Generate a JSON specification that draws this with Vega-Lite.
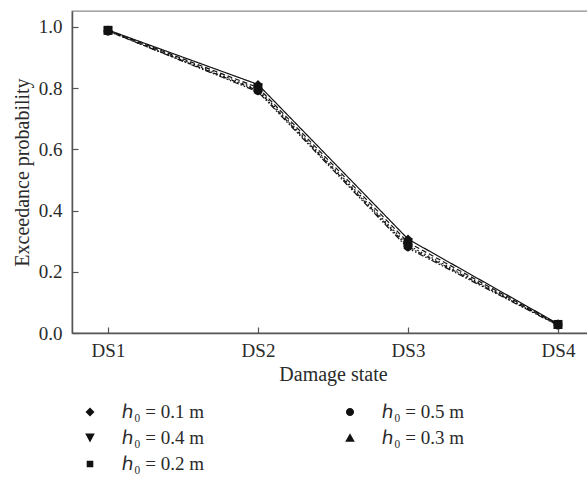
{
  "$schema": "https://vega.github.io/schema/vega-lite/v6.json",
  "autosize": "none",
  "padding": {"left": 72, "top": 11, "right": 0, "bottom": 152},
  "width": 522,
  "height": 322,
  "background": "white",
  "config": {
    "view": {"stroke": "#8a8a8a", "strokeWidth": 1.3},
    "font": "Liberation Serif",
    "axis": {
      "labelFont": "Liberation Serif",
      "titleFont": "Liberation Serif",
      "labelFontSize": 19,
      "titleFontSize": 20,
      "titleFontWeight": "normal",
      "labelColor": "#2a2a2a",
      "titleColor": "#2a2a2a",
      "domainColor": "#555555",
      "domainWidth": 1.5,
      "tickColor": "#555555",
      "tickWidth": 1.2,
      "tickSize": -6,
      "grid": false
    }
  },
  "data": {
    "values": [
      {"state": "DS1", "h0": "ℎ₀ = 0.1 m", "p": 0.99},
      {"state": "DS2", "h0": "ℎ₀ = 0.1 m", "p": 0.812},
      {"state": "DS3", "h0": "ℎ₀ = 0.1 m", "p": 0.307},
      {"state": "DS4", "h0": "ℎ₀ = 0.1 m", "p": 0.03},
      {"state": "DS1", "h0": "ℎ₀ = 0.2 m", "p": 0.989},
      {"state": "DS2", "h0": "ℎ₀ = 0.2 m", "p": 0.802},
      {"state": "DS3", "h0": "ℎ₀ = 0.2 m", "p": 0.296},
      {"state": "DS4", "h0": "ℎ₀ = 0.2 m", "p": 0.028},
      {"state": "DS1", "h0": "ℎ₀ = 0.3 m", "p": 0.988},
      {"state": "DS2", "h0": "ℎ₀ = 0.3 m", "p": 0.796},
      {"state": "DS3", "h0": "ℎ₀ = 0.3 m", "p": 0.287},
      {"state": "DS4", "h0": "ℎ₀ = 0.3 m", "p": 0.027},
      {"state": "DS1", "h0": "ℎ₀ = 0.4 m", "p": 0.987},
      {"state": "DS2", "h0": "ℎ₀ = 0.4 m", "p": 0.788},
      {"state": "DS3", "h0": "ℎ₀ = 0.4 m", "p": 0.277},
      {"state": "DS4", "h0": "ℎ₀ = 0.4 m", "p": 0.025},
      {"state": "DS1", "h0": "ℎ₀ = 0.5 m", "p": 0.986},
      {"state": "DS2", "h0": "ℎ₀ = 0.5 m", "p": 0.792},
      {"state": "DS3", "h0": "ℎ₀ = 0.5 m", "p": 0.282},
      {"state": "DS4", "h0": "ℎ₀ = 0.5 m", "p": 0.026}
    ]
  },
  "encoding": {
    "x": {
      "field": "state",
      "type": "ordinal",
      "scale": {"type": "point", "padding": 0.24, "domain": ["DS1", "DS2", "DS3", "DS4"]},
      "axis": {"title": "Damage state", "labelAngle": 0, "labelPadding": 14, "titlePadding": 4}
    },
    "y": {
      "field": "p",
      "type": "quantitative",
      "scale": {"domain": [0, 1.052], "nice": false, "zero": true},
      "axis": {
        "title": "Exceedance probability",
        "values": [0, 0.2, 0.4, 0.6, 0.8, 1.0],
        "format": ".1f",
        "labelPadding": 16,
        "titlePadding": 6
      }
    }
  },
  "layer": [
    {
      "mark": {"type": "line", "color": "#111111", "strokeWidth": 1.2},
      "encoding": {
        "strokeDash": {
          "field": "h0",
          "type": "nominal",
          "scale": {
            "domain": ["ℎ₀ = 0.1 m", "ℎ₀ = 0.2 m", "ℎ₀ = 0.3 m", "ℎ₀ = 0.4 m", "ℎ₀ = 0.5 m"],
            "range": [[1, 0], [5, 3], [1.5, 2.5], [6, 2, 1.5, 2, 1.5, 2], [4, 2, 1.5, 2]]
          },
          "legend": null
        }
      }
    },
    {
      "mark": {"type": "point", "filled": true, "color": "#111111", "size": 80, "opacity": 1},
      "encoding": {
        "shape": {
          "field": "h0",
          "type": "nominal",
          "scale": {
            "domain": ["ℎ₀ = 0.1 m", "ℎ₀ = 0.2 m", "ℎ₀ = 0.3 m", "ℎ₀ = 0.4 m", "ℎ₀ = 0.5 m"],
            "range": ["diamond", "square", "triangle-up", "triangle-down", "circle"]
          },
          "legend": null
        }
      }
    },
    {
      "mark": {"type": "point", "filled": true, "fill": "#111111", "stroke": "#111111", "opacity": 0, "size": 80},
      "encoding": {
        "shape": {
          "field": "h0",
          "type": "nominal",
          "scale": {
            "domain": ["ℎ₀ = 0.1 m", "ℎ₀ = 0.4 m", "ℎ₀ = 0.2 m", "ℎ₀ = 0.5 m", "ℎ₀ = 0.3 m"],
            "range": [
              "M-1.15,0H1.15M-0.3,0L0,-0.3L0.3,0L0,0.3Z",
              "M-1.15,0H-0.75M-0.55,0H-0.45M0.45,0H0.55M0.75,0H1.15M-0.32,-0.3L0.32,-0.3L0,0.3Z",
              "M-1.15,0H-0.8M0.8,0H1.15M-0.22,-0.22H0.22V0.22H-0.22Z",
              "M-1.15,0H-0.9M-0.65,0H-0.55M0.5,0H0.6M0.85,0H0.95M-0.27,0A0.27,0.27 0 1,0 0.27,0A0.27,0.27 0 1,0 -0.27,0Z",
              "M-1.15,0H-1.05M-0.8,0H-0.7M0.7,0H0.8M1.05,0H1.15M0,-0.32L0.32,0.25L-0.32,0.25Z"
            ]
          },
          "legend": {
            "title": null,
            "orient": "none",
            "legendX": 2,
            "legendY": 385,
            "columns": 2,
            "columnPadding": 125,
            "rowPadding": 0,
            "padding": 0,
            "symbolSize": 900,
            "symbolStrokeWidth": 1.2,
            "symbolFillColor": "#111111",
            "symbolStrokeColor": "#111111",
            "symbolOpacity": 1,
            "labelFont": "Liberation Serif",
            "labelFontSize": 19,
            "labelColor": "#2a2a2a",
            "labelOffset": 16,
            "labelLimit": 200
          }
        }
      }
    }
  ],
  "resolve": {"scale": {"shape": "independent"}, "legend": {"shape": "independent"}}
}
